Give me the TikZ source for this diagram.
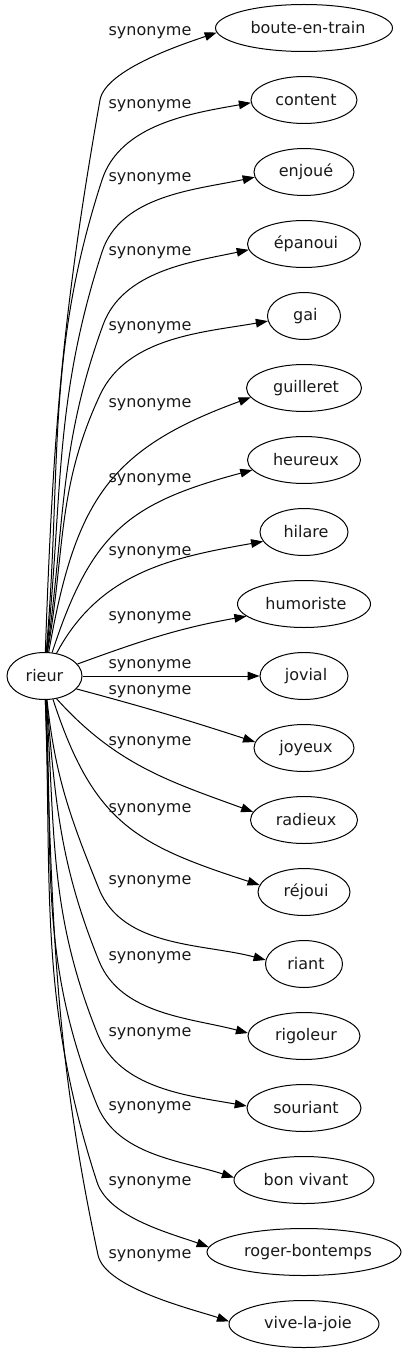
\documentclass[tikz,border=0pt]{standalone}
\usepackage{fontspec}
\setmainfont{DejaVu Sans}
\usetikzlibrary{shapes.geometric,arrows.meta}
\begin{document}
\begin{tikzpicture}[x=0.75pt,y=0.75pt,
  word/.style={ellipse,draw,line width=0.75pt,inner sep=0pt,minimum height=35.25pt,font=\fontsize{12}{14}\selectfont,text=black!90},
  lbl/.style={font=\fontsize{12}{14}\selectfont,text=black!90,inner sep=0pt},
  syn/.style={line width=0.75pt,-{Triangle[length=9pt,width=6.5pt]}}]
\useasboundingbox (0,0) rectangle (406,-1355);
% nodes
\node[word,minimum width=56.25pt] (rieur) at (44.5,-676) {rieur};
\node[word,minimum width=132.75pt] (boute) at (304,-28) {\kern6pt boute-en-train};
\node[word,minimum width=79.5pt] (content) at (304,-100) {\kern3pt content};
\node[word,minimum width=75pt] (enjoue) at (304,-172) {\kern3pt enjoué};
\node[word,minimum width=84.75pt] (epanoui) at (304,-244) {\kern3pt épanoui};
\node[word,minimum width=54.75pt] (gai) at (304,-316) {\kern2pt gai};
\node[word,minimum width=86.25pt] (guilleret) at (304,-388) {\kern3pt guilleret};
\node[word,minimum width=84.75pt] (heureux) at (304,-460) {\kern3pt heureux};
\node[word,minimum width=66pt] (hilare) at (304,-532) {\kern3pt hilare};
\node[word,minimum width=99.75pt] (humoriste) at (304,-604) {\kern3pt humoriste};
\node[word,minimum width=66pt] (jovial) at (304,-676) {\kern3pt jovial};
\node[word,minimum width=75pt] (joyeux) at (304,-748) {\kern3pt joyeux};
\node[word,minimum width=80.25pt] (radieux) at (304,-820) {\kern3pt radieux};
\node[word,minimum width=69pt] (rejoui) at (304,-892) {\kern3pt réjoui};
\node[word,minimum width=57.75pt] (riant) at (304,-964) {\kern3pt riant};
\node[word,minimum width=84pt] (rigoleur) at (304,-1036) {\kern3pt rigoleur};
\node[word,minimum width=85.5pt] (souriant) at (304,-1108) {\kern3pt souriant};
\node[word,minimum width=105pt] (bonvivant) at (304,-1180) {\kern3pt bon vivant};
\node[word,minimum width=145.5pt] (roger) at (304,-1252) {\kern6pt roger-bontemps};
\node[word,minimum width=112.5pt] (vive) at (304,-1324) {\kern6pt vive-la-joie};
% bend coordinates
\coordinate (b0) at (100,-100);
\coordinate (b1) at (102,-180);
\coordinate (b2) at (102,-252);
\coordinate (b3) at (103,-325);
\coordinate (b4) at (100,-395);
\coordinate (b13) at (99,-889);
\coordinate (b14) at (99,-961);
\coordinate (b15) at (98,-1035);
\coordinate (b16) at (97,-1105);
\coordinate (b17) at (97,-1182);
\coordinate (b18) at (98,-1255);
% edges
\draw[syn] (rieur.88) to[out=88,in=260] (b0) to[out=80,in=199,looseness=0.6] (boute.183);
\draw[syn] (rieur.86) to[out=85,in=252] (b1) to[out=72,in=190,looseness=0.9] (content.183);
\draw[syn] (rieur.85) to[out=84,in=252] (b2) to[out=72,in=192,looseness=0.9] (enjoue.186);
\draw[syn] (rieur.84) to[out=82,in=250] (b3) to[out=70,in=192,looseness=0.9] (epanoui.186);
\draw[syn] (rieur.83) to[out=80,in=245] (b4) to[out=65,in=190,looseness=0.9] (gai.188);
\draw[syn] (rieur.80) to[out=80,in=200,looseness=1.2] (guilleret.190);
\draw[syn] (rieur.72) to[out=72,in=195,looseness=1.2] (heureux.191);
\draw[syn] (rieur.62) to[out=62,in=190] (hilare.193);
\draw[syn] (rieur.20) to[out=20,in=190] (humoriste.192);
\draw[syn] (rieur) -- (jovial);
\draw[syn] (rieur.-22) to[out=-15,in=162] (joyeux.173);
\draw[syn] (rieur.-62) to[out=-48,in=160] (radieux.171);
\draw[syn] (rieur.-70) to[out=-72,in=162,looseness=1.2] (rejoui.171);
\draw[syn] (rieur.-84) to[out=-84,in=112] (b13) to[out=-68,in=165,looseness=0.9] (riant.174);
\draw[syn] (rieur.-85) to[out=-85,in=112] (b14) to[out=-68,in=165,looseness=0.9] (rigoleur.177);
\draw[syn] (rieur.-86) to[out=-86,in=112] (b15) to[out=-68,in=170,looseness=0.9] (souriant.178);
\draw[syn] (rieur.-87) to[out=-87,in=112] (b16) to[out=-68,in=162,looseness=0.9] (bonvivant.178);
\draw[syn] (rieur.-88) to[out=-88,in=108] (b17) to[out=-72,in=160,looseness=0.75] (roger.177);
\draw[syn] (rieur.-88) to[out=-88,in=102] (b18) to[out=-78,in=161,looseness=0.6] (vive.178);
% labels
\node[lbl] (l0) at (150,-33) {synonyme};
\node[lbl] (l1) at (150,-106) {synonyme};
\node[lbl] (l2) at (150,-179) {synonyme};
\node[lbl] (l3) at (150,-253) {synonyme};
\node[lbl] (l4) at (150,-328) {synonyme};
\node[lbl] (l5) at (150,-405) {synonyme};
\node[lbl] (l6) at (150,-480) {synonyme};
\node[lbl] (l7) at (150,-553) {synonyme};
\node[lbl] (l8) at (150,-618) {synonyme};
\node[lbl] (l9) at (150,-666) {synonyme};
\node[lbl] (l10) at (150,-692) {synonyme};
\node[lbl] (l11) at (150,-743) {synonyme};
\node[lbl] (l12) at (150,-810) {synonyme};
\node[lbl] (l13) at (150,-882) {synonyme};
\node[lbl] (l14) at (150,-958) {synonyme};
\node[lbl] (l15) at (150,-1034) {synonyme};
\node[lbl] (l16) at (150,-1108) {synonyme};
\node[lbl] (l17) at (150,-1183) {synonyme};
\node[lbl] (l18) at (150,-1256) {synonyme};
\end{tikzpicture}
\end{document}
